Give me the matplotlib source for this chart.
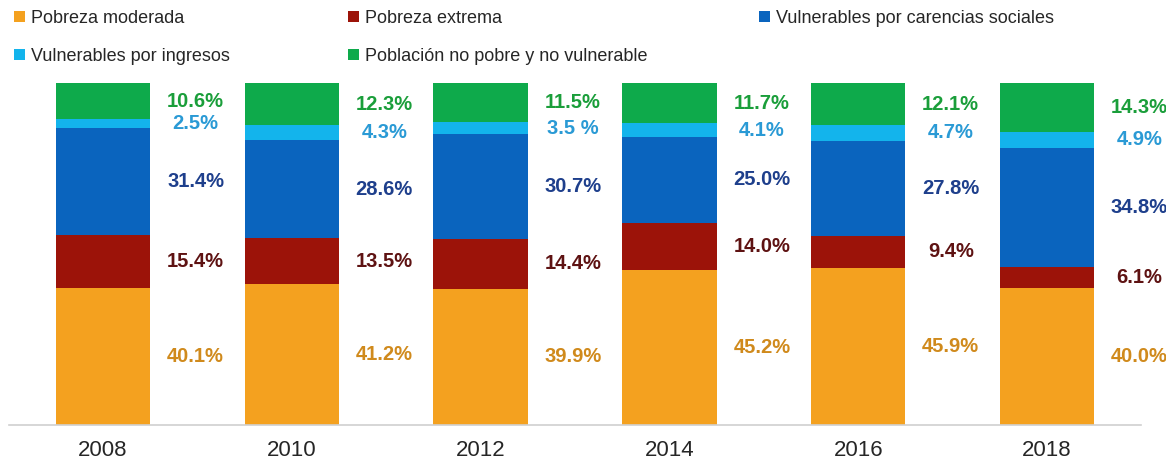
import matplotlib
matplotlib.use('Agg')
import matplotlib.pyplot as plt
from matplotlib.patches import Patch
import numpy as np

plt.rcParams['font.family'] = ['Liberation Sans', 'DejaVu Sans']

# data
years = ['2008', '2010', '2012', '2014', '2016', '2018']
series_names = ['Pobreza moderada', 'Pobreza extrema',
                'Vulnerables por carencias sociales',
                'Vulnerables por ingresos',
                'Población no pobre y no vulnerable']
moderada = [40.1, 41.2, 39.9, 45.2, 45.9, 40.0]
extrema = [15.4, 13.5, 14.4, 14.0, 9.4, 6.1]
carencias = [31.4, 28.6, 30.7, 25.0, 27.8, 34.8]
ingresos = [2.5, 4.3, 3.5, 4.1, 4.7, 4.9]
no_pobre = [10.6, 12.3, 11.5, 11.7, 12.1, 14.3]
label_text = [
    ['40.1%', '41.2%', '39.9%', '45.2%', '45.9%', '40.0%'],
    ['15.4%', '13.5%', '14.4%', '14.0%', '9.4%', '6.1%'],
    ['31.4%', '28.6%', '30.7%', '25.0%', '27.8%', '34.8%'],
    ['2.5%', '4.3%', '3.5 %', '4.1%', '4.7%', '4.9%'],
    ['10.6%', '12.3%', '11.5%', '11.7%', '12.1%', '14.3%'],
]

bar_colors = ['#F4A11F', '#9C1309', '#0A64BE', '#13B4EC', '#0EAA4B']
text_colors = ['#D08A1C', '#5E1212', '#1E3F8C', '#2A9AD5', '#1A9E3A']

fig = plt.figure(figsize=(11.66, 4.65), dpi=100)
ax = fig.add_axes([0.0074, 0.086, 0.9715, 0.7355])

x = np.arange(len(years))
bottom = np.zeros(len(years))
for k, vals in enumerate([moderada, extrema, carencias, ingresos, no_pobre]):
    vals = np.array(vals)
    ax.bar(x, vals, 0.5, bottom=bottom, color=bar_colors[k], linewidth=0)
    for i in range(len(years)):
        ax.text(x[i] + 0.49, bottom[i] + vals[i] / 2, label_text[k][i],
                ha='center', va='center', fontsize=14.5, fontweight='bold',
                color=text_colors[k])
    bottom += vals

ax.set_xlim(-0.5, 5.5)
ax.set_ylim(0, 100)
ax.set_xticks(x)
ax.set_xticklabels(years, fontsize=16, color='#262626')
ax.tick_params(axis='x', length=0, pad=11)
ax.set_yticks([])
for s in ['top', 'right', 'left']:
    ax.spines[s].set_visible(False)
ax.spines['bottom'].set_color('#D0D0D0')
ax.spines['bottom'].set_linewidth(1.2)

# legend, placed item by item
legend_pos = [(0.004, 0.961), (0.291, 0.961), (0.643, 0.961),
              (0.004, 0.879), (0.291, 0.879)]
for k in range(len(series_names)):
    h = [Patch(facecolor=bar_colors[k], label=series_names[k])]
    fig.legend(handles=h, loc='center left', bbox_to_anchor=legend_pos[k],
               frameon=False, fontsize=13, handlelength=0.6,
               handleheight=0.6, handletextpad=0.35, borderpad=0,
               labelcolor='#262626')

fig.savefig('out.png', dpi=100)
